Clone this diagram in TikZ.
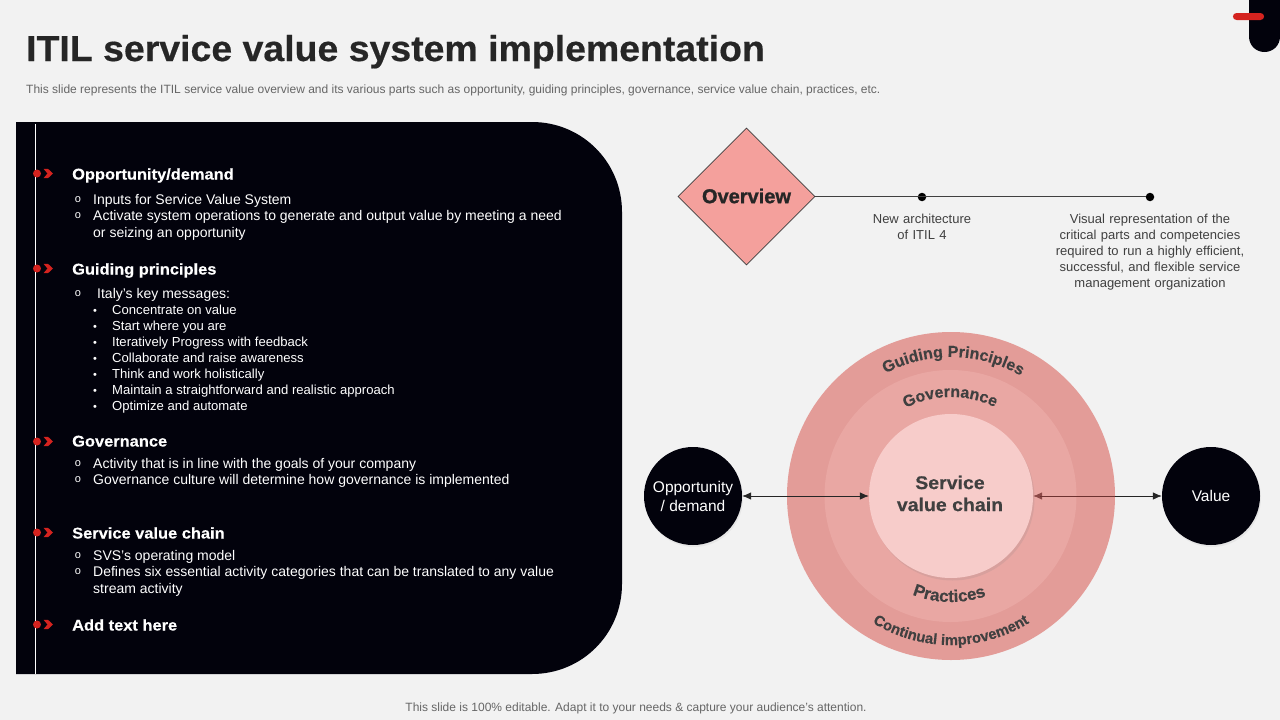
\documentclass[tikz,border=0pt]{standalone}
\usepackage{fontspec}
\setmainfont{Liberation Sans}
\newfontfamily\titlefont[FakeStretch=1.04,FakeBold=0.5]{Liberation Sans Bold}
\newfontfamily\headfont[FakeStretch=1.06,FakeBold=0.4]{Liberation Sans Bold}
\newfontfamily\heavyfont[FakeBold=1.2]{Liberation Sans Bold}
\newfontfamily\ringfont[FakeBold=0.4]{Liberation Sans Bold}
\usetikzlibrary{arrows.meta,shapes.geometric,shadows,decorations.text}
\definecolor{pagebg}{HTML}{F2F2F2}
\definecolor{ink}{HTML}{02020C}
\definecolor{accent}{HTML}{D4231F}
\definecolor{ringa}{HTML}{E39C98}
\definecolor{ringb}{HTML}{E9A7A3}
\definecolor{ringc}{HTML}{F7CCCA}
\definecolor{diamondfill}{HTML}{F4A09C}
\definecolor{ringtext}{HTML}{404040}
\definecolor{tipred}{HTML}{8A4846}
\definecolor{linered}{HTML}{6E3230}
\newcommand{\fs}[1]{\fontsize{#1}{#1}\selectfont}
\tikzset{
  bodytext/.style={anchor=base west,inner sep=0pt,text=white,font=\fs{14}},
  smalltext/.style={anchor=base west,inner sep=0pt,text=white,font=\fs{13.1}},
  headtext/.style={anchor=base west,inner sep=0pt,text=white,font=\fs{15.5}\headfont},
  ocirc/.style={anchor=center,inner sep=0pt,text=white,font=\fs{11}},
  bullet/.style={anchor=center,inner sep=0pt,text=white,font=\fs{11}},
  greytext/.style={inner sep=0pt,text=ringtext,font=\fontsize{13}{16}\selectfont,align=center},
  dotnode/.style={circle,fill=black,inner sep=0pt,minimum size=8.5pt},
  darkcircle/.style={circle,fill=ink,inner sep=0pt,minimum size=98pt,text=white,font=\fontsize{15.5}{19}\selectfont,align=center,
     drop shadow={opacity=.1,shadow xshift=1pt,shadow yshift=-2pt}},
  ringshape/.style={circle,inner sep=0pt},
  curve/.style={decorate},
  biarrow/.style={{Latex[length=9pt,width=7.5pt]}-{Latex[length=9pt,width=7.5pt]},line width=.7pt,draw=black!85}
}
\newcommand{\markerat}[1]{%
  \fill[accent] (37,#1+.5) circle[radius=4];
  \fill[accent] (43.5,#1-4.2) -- (48,#1-4.2) -- (53,#1+.5) -- (48,#1+5.2) -- (43.5,#1+5.2) -- (47.5,#1+.5) -- cycle;
}
\begin{document}
\begin{tikzpicture}[x=1pt,y=-1pt]
\useasboundingbox (0,0) rectangle (1280,720);
\fill[pagebg] (0,0) rectangle (1280,720);

% top-right tab
\fill[ink] (1249,0) -- (1249,36.5) .. controls (1249,45.5) and (1256,52) .. (1264.5,52) .. controls (1273,52) and (1280,45.5) .. (1280,36.5) -- (1280,0) -- cycle;
\fill[accent] (1236.5,13) -- (1260.5,13) .. controls (1265.2,13) and (1265.2,20) .. (1260.5,20) -- (1236.5,20) .. controls (1231.8,20) and (1231.8,13) .. (1236.5,13) -- cycle;

% title
\node[anchor=base west,inner sep=0pt,text=black!85,font=\fs{36}\titlefont] (title) at (26,61) {ITIL service value system implementation};
\node[anchor=base west,inner sep=0pt,text=black!60,font=\fs{12}] (subtitle) at (26,93) {This slide represents the ITIL service value overview and its various parts such as opportunity, guiding principles, governance, service value chain, practices, etc.};
\node[anchor=base,inner sep=0pt,text=black!60,font=\fs{12}] (footer) at (636,711) {This slide is 100\% editable. Adapt it to your needs \& capture your audience's attention.};

% panel
\fill[ink] (16,122) -- (532,122) .. controls (582,122) and (622,162) .. (622,212) -- (622,584) .. controls (622,634) and (582,674) .. (532,674) -- (16,674) -- cycle;
\draw[white,line width=1pt] (35.5,124) -- (35.5,674);
\markerat{173}
\markerat{268}
\markerat{441}
\markerat{532}
\markerat{624}

\node[headtext] (h1) at (72,179.5) {Opportunity/demand};
\node[ocirc] (o1) at (78,200) {o};
\node[bodytext] (t1) at (93,204) {Inputs for Service Value System};
\node[ocirc] (o2) at (78,216) {o};
\node[bodytext] (t2) at (93,220) {Activate system operations to generate and output value by meeting a need};
\node[bodytext] (t3) at (93,237) {or seizing an opportunity};

\node[headtext] (h2) at (72,274.5) {Guiding principles};
\node[ocirc] (o3) at (78,294) {o};
\node[bodytext] (t4) at (97,298) {Italy's key messages:};
\node[bullet] (b1) at (95,312) {•};
\node[smalltext] (s1) at (112,314) {Concentrate on value};
\node[bullet] (b2) at (95,328) {•};
\node[smalltext] (s2) at (112,330) {Start where you are};
\node[bullet] (b3) at (95,344) {•};
\node[smalltext] (s3) at (112,346) {Iteratively Progress with feedback};
\node[bullet] (b4) at (95,360) {•};
\node[smalltext] (s4) at (112,362) {Collaborate and raise awareness};
\node[bullet] (b5) at (95,376) {•};
\node[smalltext] (s5) at (112,378) {Think and work holistically};
\node[bullet] (b6) at (95,392) {•};
\node[smalltext] (s6) at (112,394) {Maintain a straightforward and realistic approach};
\node[bullet] (b7) at (95,408) {•};
\node[smalltext] (s7) at (112,410) {Optimize and automate};

\node[headtext] (h3) at (72,446.5) {Governance};
\node[ocirc] (o4) at (78,464) {o};
\node[bodytext] (t5) at (93,468) {Activity that is in line with the goals of your company};
\node[ocirc] (o5) at (78,480) {o};
\node[bodytext] (t6) at (93,484) {Governance culture will determine how governance is implemented};

\node[headtext] (h4) at (72,538.5) {Service value chain};
\node[ocirc] (o6) at (78,556) {o};
\node[bodytext] (t7) at (93,560) {SVS's operating model};
\node[ocirc] (o7) at (78,572) {o};
\node[bodytext] (t8) at (93,576) {Defines six essential activity categories that can be translated to any value};
\node[bodytext] (t9) at (93,593) {stream activity};

\node[headtext] (h5) at (72,630.5) {Add text here};

% overview
\node[diamond,aspect=1,fill=diamondfill,draw=black!75,line width=.6pt,inner sep=0pt,minimum width=137pt,minimum height=137pt] (overview) at (746.5,196.5) {};
\node[inner sep=0pt,text=black!85,font=\fs{20}\heavyfont] (overviewtext) at (746.5,196) {Overview};
\node[dotnode] (dot1) at (922,197) {};
\node[dotnode] (dot2) at (1150,197) {};
\draw[black!75,line width=1.1pt] (overview.east) -- (dot1.west |- overview.east) -- (dot2.west |- overview.east);
\node[greytext,text width=120pt,anchor=north] (d1) at (922,214) {New architecture\\of ITIL 4};
\node[greytext,text width=210pt,anchor=north] (d2) at (1150,214) {Visual representation of the\\critical parts and competencies\\required to run a highly efficient,\\successful, and flexible service\\management organization};

% rings
\node[ringshape,fill=ringa,minimum size=328pt] (outer) at (951,496) {};
\node[ringshape,fill=ringb,minimum size=252pt] (middle) at (950.5,496) {};
\node[ringshape,fill=ringc,minimum size=164pt,
  drop shadow={opacity=.16,shadow xshift=1.5pt,shadow yshift=-2.5pt}] (svc) at (951,496) {};
\node[inner sep=0pt,text=ringtext,font=\fontsize{18.4}{22}\selectfont\headfont,align=center] (svctext) at (950,493.5) {Service\\value chain};

\begin{scope}[shift={(951,496)},y=1pt]
\path[curve,decoration={text along path,text align=center,text={|\fs{16}\ringfont\color{ringtext}|Guiding Principles}}]
  (149:139pt) arc[start angle=149,end angle=29,radius=139pt];
\path[curve,decoration={text along path,text align=center,text={|\fs{16}\ringfont\color{ringtext}|Governance}}]
  (150.5:99pt) arc[start angle=150.5,end angle=30.5,radius=99pt];
\path[curve,decoration={text along path,text align=center,text={|\fs{17}\ringfont\color{ringtext}|Practices}}]
  (209:106pt) arc[start angle=209,end angle=329,radius=106pt];
\path[curve,decoration={text along path,text align=center,text={|\fs{14.8}\ringfont\color{ringtext}|Continual improvement}}]
  (210:149pt) arc[start angle=210,end angle=330,radius=149pt];
\end{scope}

\node[darkcircle] (opp) at (693,496) {Opportunity\\/ demand};
\node[darkcircle] (value) at (1211,496) {Value};
\draw[biarrow] (opp) -- (svc);
\draw[biarrow,{Latex[length=9pt,width=7.5pt,color=tipred]}-{Latex[length=9pt,width=7.5pt]}] (svc) -- (value);
\draw[line width=.7pt,draw=linered] ([xshift=7pt]svc.east) -- (outer.east);
\end{tikzpicture}
\end{document}
